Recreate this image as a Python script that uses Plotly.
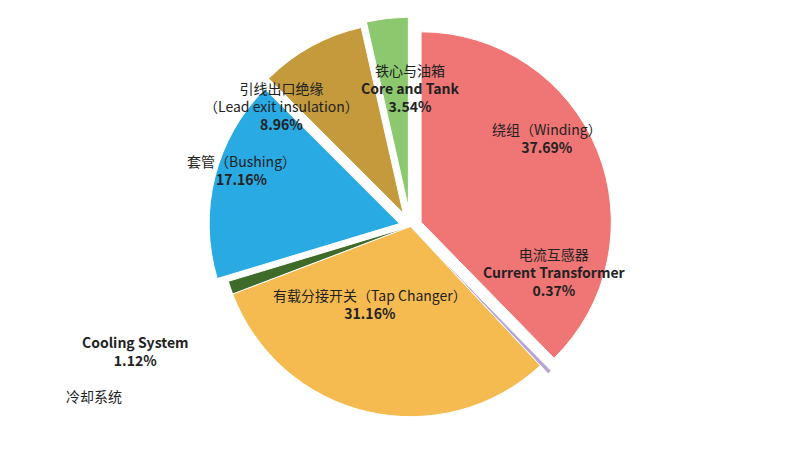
import plotly.graph_objects as go

labels = ["绕组（Winding）", "电流互感器 Current Transformer", "有载分接开关（Tap Changer）",
          "冷却系统 Cooling System", "套管（Bushing）", "引线出口绝缘（Lead exit insulation）", "铁心与油箱 Core and Tank"]
values = [37.69, 0.37, 31.16, 1.12, 17.16, 8.96, 3.54]
colors = ["#F07575", "#B9A6D6", "#F6BB50", "#3F6B2A", "#2AAAE2", "#C49A3C", "#8CC86E"]
pulls = [0.06, 0.06, 0.0, 0.0, 0.06, 0.08, 0.1]

fig = go.Figure(go.Pie(labels=labels, values=values, sort=False, direction="clockwise",
                       rotation=0, pull=pulls, marker=dict(colors=colors, line=dict(color="white", width=1)),
                       textinfo="none", hoverinfo="label+percent", showlegend=False,
                       domain=dict(x=[0.08, 0.92], y=[0.06, 0.98])))

F = "Noto Sans CJK SC"
ann = [
    (0.74, 0.76, "绕组（Winding）<br><b>37.69%</b>"),
    (0.77, 0.42, "电流互感器<br><b>Current Transformer</b><br><b>0.37%</b>"),
    (0.45, 0.35, "有载分接开关（Tap Changer）<br><b>31.16%</b>"),
    (0.09, 0.20, "<b>Cooling System</b><br><b>1.12%</b>"),
    (0.07, 0.12, "冷却系统"),
    (0.22, 0.69, "套管（Bushing）<br><b>17.16%</b>"),
    (0.34, 0.85, "引线出口绝缘<br>（Lead exit insulation）<br><b>8.96%</b>"),
    (0.50, 0.89, "铁心与油箱<br><b>Core and Tank</b><br><b>3.54%</b>"),
]
annotations = [dict(x=x, y=y, xref="paper", yref="paper", text=t, showarrow=False,
                    font=dict(family=F, size=14, color="#222")) for x, y, t in ann]
fig.update_layout(width=805, height=455, margin=dict(l=0, r=0, t=0, b=0),
                  paper_bgcolor="white", annotations=annotations)
fig.write_html("out.html")
